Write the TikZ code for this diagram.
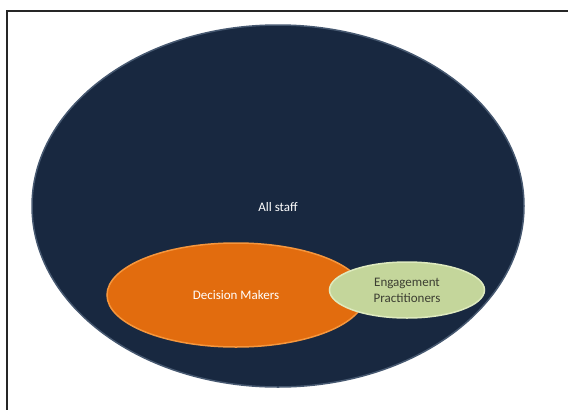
\documentclass[tikz,border=0pt]{standalone}
\usepackage{fontspec}
\setmainfont{Carlito}
\usepackage{tikz}
\usepackage{xcolor}
\usetikzlibrary{shapes.geometric,positioning}
\definecolor{staffnavy}{RGB}{24,40,64}
\definecolor{staffedge}{RGB}{70,88,112}
\definecolor{makerorange}{RGB}{226,108,14}
\definecolor{makeredge}{RGB}{246,150,60}
\definecolor{practgreen}{RGB}{196,214,155}
\definecolor{practedge}{RGB}{222,234,190}
\definecolor{practtext}{RGB}{60,62,50}

\begin{document}
\begin{tikzpicture}[x=1pt, y=-1pt,
    blob/.style={ellipse, inner sep=0pt, line width=1.5pt, font=\fontsize{13}{16}\selectfont, align=center}]
    \useasboundingbox (0,0) rectangle (568,410);

    % Frame
    \draw[line width=1.3pt, black!85] (568,11) -- (7,11) -- (7,410);

    % All staff
    \node[blob, fill=staffnavy, draw=staffedge, minimum width=492pt, minimum height=362pt] (staff) at (278,206) {};
    \node[text=white, font=\fontsize{13}{16}\selectfont] (stafflabel) at (278,207) {All staff};

    % Decision makers
    \node[blob, fill=makerorange, draw=makeredge, minimum width=258pt, minimum height=104pt,
          text=white] (makers) at (236,295) {Decision Makers};

    % Engagement practitioners
    \node[blob, fill=practgreen, draw=practedge, minimum width=155pt, minimum height=56pt,
          text=practtext] (pract) at (407,290) {Engagement\\Practitioners};
\end{tikzpicture}
\end{document}
